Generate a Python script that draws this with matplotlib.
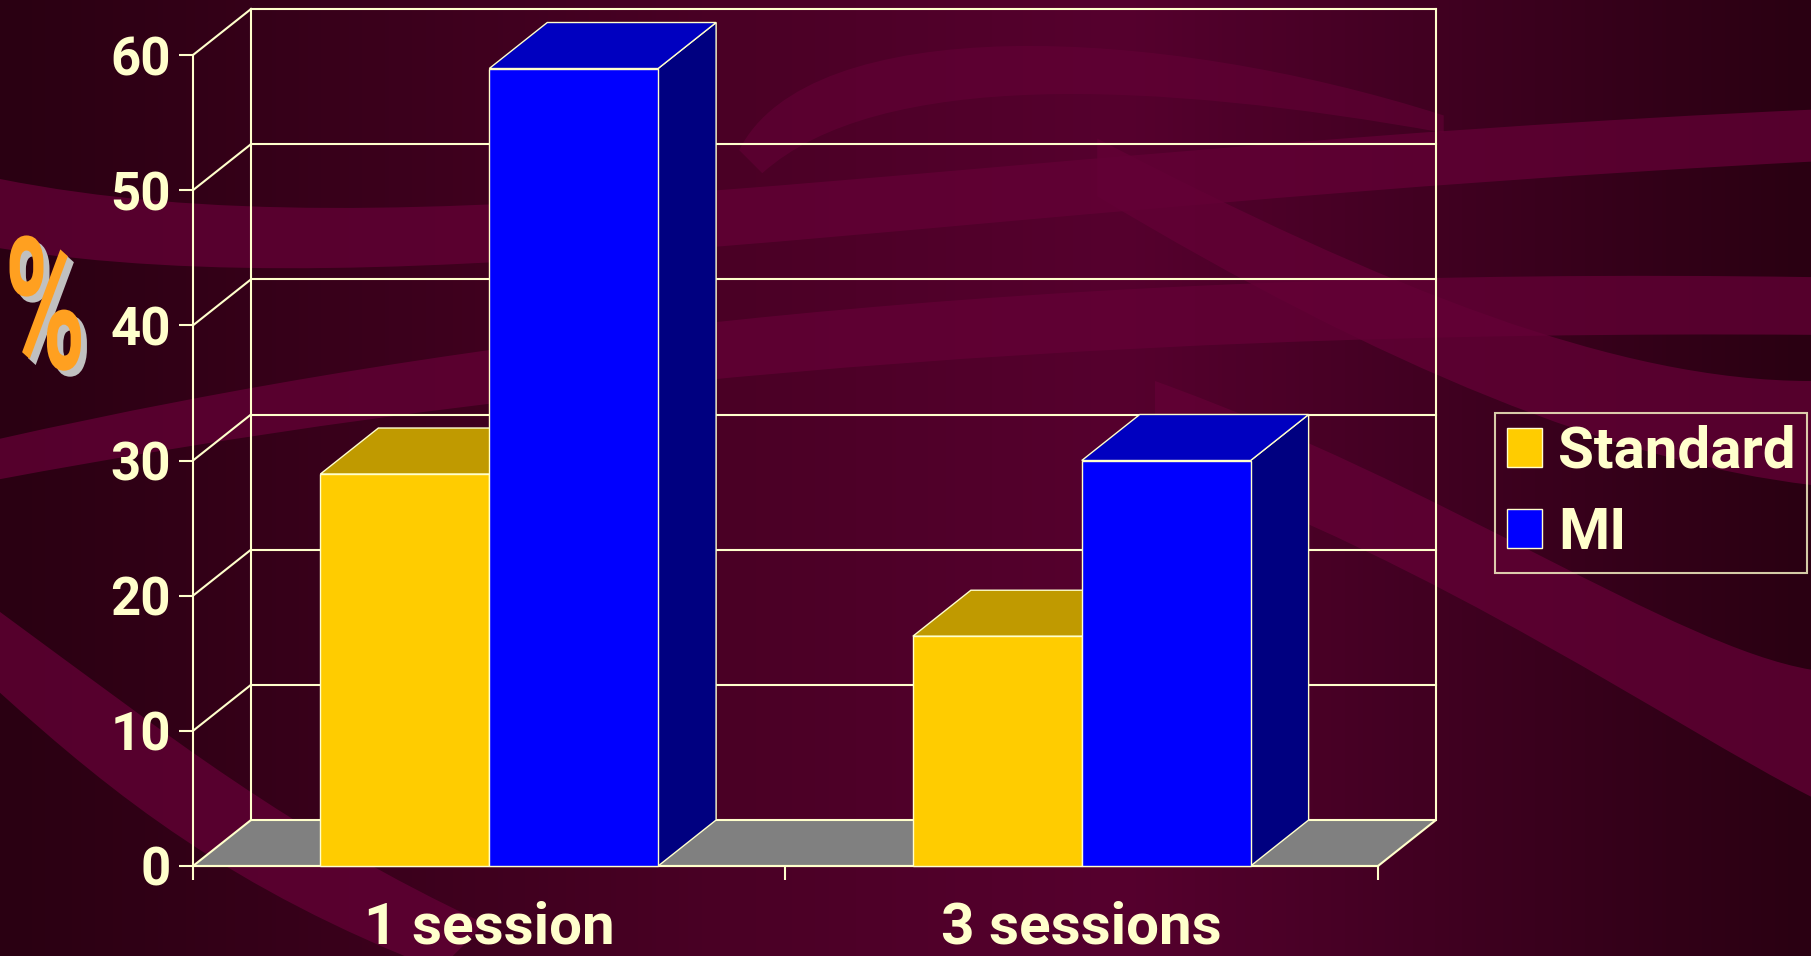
import numpy as np
import matplotlib
matplotlib.use('Agg')
import matplotlib.pyplot as plt
from matplotlib.patches import Polygon, PathPatch, Patch, Rectangle
from matplotlib.path import Path
from matplotlib.transforms import Affine2D
import matplotlib.patheffects as pe
from matplotlib.colors import LinearSegmentedColormap, to_rgba

# data
categories = ['1 session', '3 sessions']
series_names = ['Standard', 'MI']
standard = [29, 17]
mi = [59, 30]
yticks = [0, 10, 20, 30, 40, 50, 60]

W, H = 1811, 956
CREAM = '#FFFFCC'
front_colors = ['#FFCC00', '#0000FF']
top_colors = ['#C09A00', '#0000C0']
side_colors = ['#806600', '#000080']

plt.rcParams['font.family'] = ['Roboto', 'DejaVu Sans']
plt.rcParams['font.weight'] = 'bold'

fig = plt.figure(figsize=(W / 100, H / 100), dpi=100)

# background: horizontal gradient plus a few soft bands
bg = fig.add_axes([0, 0, 1, 1])
bg.set_axis_off()
bg_cmap = LinearSegmentedColormap.from_list(
    'bg', [(0, '#2a0012'), (0.4, '#4a0025'), (0.62, '#56002e'),
           (0.85, '#3a001d'), (1, '#2a0012')])
grad = np.tile(np.linspace(0, 1, 400), (50, 1))
bg.imshow(grad, cmap=bg_cmap, extent=[0, 1, 0, 1], aspect='auto', origin='lower')
bg.set_xlim(0, 1)
bg.set_ylim(0, 1)


def band(top, bot, color='#640036', alpha=0.75):
    # top/bot: 4 bezier control points each, in 1568x828 screen coords
    pts = [(x / 1568, 1 - y / 828) for x, y in top + bot]
    codes = [Path.MOVETO] + [Path.CURVE4] * 3 + [Path.LINETO] + [Path.CURVE4] * 3 + [Path.CLOSEPOLY]
    pts.append(pts[0])
    bg.add_patch(PathPatch(Path(pts, codes), fc=color, ec='none', alpha=alpha))


band([(0, 155), (350, 225), (800, 130), (1568, 95)],
     [(1568, 140), (800, 180), (350, 270), (0, 215)])
band([(0, 380), (400, 290), (900, 230), (1568, 240)],
     [(1568, 290), (900, 285), (400, 340), (0, 415)])
band([(0, 530), (150, 640), (250, 720), (420, 800)],
     [(380, 840), (200, 770), (100, 690), (0, 600)])
band([(640, 130), (700, 10), (1000, 20), (1250, 100)],
     [(1250, 115), (1000, 70), (760, 60), (660, 150)], alpha=0.6)
band([(950, 120), (1200, 250), (1400, 330), (1568, 330)],
     [(1568, 420), (1400, 400), (1200, 320), (950, 170)])
band([(1000, 330), (1250, 420), (1450, 560), (1568, 580)],
     [(1568, 690), (1450, 630), (1250, 490), (1000, 400)])

# chart axes: front plane spans x 0..2, y 0..60
ax = fig.add_axes([193 / W, 90 / H, (1378 - 193) / W, (901 - 90) / H])
ax.set_xlim(0, 2)
ax.set_ylim(0, 60)
ax.patch.set_alpha(0)

ddx = 58 / 592.5   # depth offset in x units
ddy = 46 / 13.517  # depth offset in y units

# floor
ax.add_patch(Polygon([(0, 0), (2, 0), (2 + ddx, ddy), (ddx, ddy)], closed=True,
                     fc='#808080', ec=CREAM, lw=1.5, clip_on=False, zorder=1))
# walls and gridlines
for v in yticks[1:]:
    ax.plot([ddx, 2 + ddx], [v + ddy, v + ddy], color=CREAM, lw=1.5, clip_on=False, zorder=1)
    ax.plot([0, ddx], [v, v + ddy], color=CREAM, lw=1.5, clip_on=False, zorder=1)
for xb in (ddx, 2 + ddx):
    ax.plot([xb, xb], [ddy, yticks[-1] + ddy], color=CREAM, lw=1.5, clip_on=False, zorder=1)

# 3D bars
bw = 0.285
for i, cat in enumerate(categories):
    c = i + 0.5
    for j, vals in enumerate([standard, mi]):
        v = vals[i]
        x0 = c - bw + j * bw
        x1 = x0 + bw
        z = 3 + j
        ax.add_patch(Polygon([(x1, 0), (x1 + ddx, ddy), (x1 + ddx, v + ddy), (x1, v)],
                             fc=side_colors[j], ec=CREAM, lw=1, clip_on=False, zorder=z))
        ax.add_patch(Polygon([(x0, v), (x1, v), (x1 + ddx, v + ddy), (x0 + ddx, v + ddy)],
                             fc=top_colors[j], ec=CREAM, lw=1, clip_on=False, zorder=z))
        ax.add_patch(Rectangle((x0, 0), bw, v, fc=front_colors[j], ec=CREAM, lw=1,
                               clip_on=False, zorder=z))

# axes styling
for s in ('top', 'right'):
    ax.spines[s].set_visible(False)
for s in ('left', 'bottom'):
    ax.spines[s].set_color(CREAM)
    ax.spines[s].set_linewidth(1.5)
ax.set_yticks(yticks)
ax.tick_params(axis='y', colors=CREAM, length=10, width=1.5, pad=6, labelsize=38)
ax.set_xticks([0, 1, 2])
ax.set_xticklabels([])
ax.set_xticks([0.5, 1.5], minor=True)
ax.set_xticklabels(categories, minor=True)
ax.tick_params(axis='x', which='major', colors=CREAM, length=10, width=1.5)
ax.tick_params(axis='x', which='minor', length=0, pad=25, labelsize=42, labelcolor=CREAM)

# legend
handles = [Patch(fc=front_colors[k], ec=CREAM, lw=1, label=series_names[k]) for k in range(2)]
leg = fig.legend(handles=handles, loc='upper left', bbox_to_anchor=(1495 / W, 1 - 413 / H),
                 fontsize=42, labelcolor=CREAM, handlelength=0.6, handleheight=0.65,
                 handletextpad=0.28, borderpad=0.2, labelspacing=0.45, borderaxespad=0,
                 fancybox=False, frameon=True)
leg.get_frame().set_facecolor('none')
leg.get_frame().set_edgecolor(CREAM)
leg.get_frame().set_linewidth(1.5)


class Stretched(pe.AbstractPathEffect):
    """Draw the glyph path stretched about a fixed pixel point (keeps the text as text)."""

    def __init__(self, center, sx, sy, fc, shift=(0, 0)):
        super().__init__()
        self.center, self.sx, self.sy, self.shift = center, sx, sy, shift
        self.fc = to_rgba(fc)

    def draw_path(self, renderer, gc, tpath, affine, rgbFace=None):
        cx, cy = self.center
        t = affine + Affine2D().translate(-cx, -cy).scale(self.sx, self.sy).translate(
            cx + self.shift[0], cy + self.shift[1])
        gc0 = renderer.new_gc()
        gc0.copy_properties(gc)
        gc0.set_linewidth(0)
        renderer.draw_path(gc0, tpath, t, self.fc)
        gc0.restore()


# axis title "%"
pc = (45, H - 318)
fig.text(pc[0] / W, pc[1] / H, '%', fontsize=72, ha='center', va='center', color='#FF9F1A',
         family='Roboto', weight='bold',
         path_effects=[Stretched(pc, 1.1, 1.85, '#C0C0C0', shift=(6, -6)),
                       Stretched(pc, 1.1, 1.85, '#FFA020')])

fig.savefig('out.png', dpi=100)
